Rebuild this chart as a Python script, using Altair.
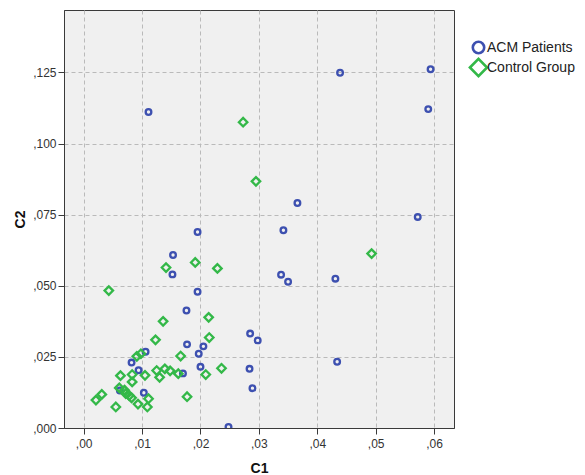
import altair as alt
import pandas as pd

groups = ["ACM Patients", "Control Group"]

acm_c1 = [0.0594, 0.0439, 0.0590, 0.0111, 0.0366, 0.0572, 0.0342, 0.0195, 0.0153, 0.0152,
          0.0338, 0.0431, 0.0350, 0.0195, 0.0176, 0.0285, 0.0298, 0.0177, 0.0205, 0.0106,
          0.0197, 0.0082, 0.0434, 0.0200, 0.0284, 0.0094, 0.0170, 0.0289, 0.0062, 0.0103,
          0.0248]
acm_c2 = [0.1261, 0.1249, 0.1121, 0.1111, 0.0791, 0.0742, 0.0695, 0.0689, 0.0608, 0.0540,
          0.0539, 0.0525, 0.0514, 0.0479, 0.0413, 0.0332, 0.0308, 0.0294, 0.0287, 0.0268,
          0.0261, 0.0230, 0.0233, 0.0215, 0.0208, 0.0203, 0.0192, 0.0140, 0.0132, 0.0124,
          0.0004]

ctrl_c1 = [0.0273, 0.0295, 0.0493, 0.0191, 0.0141, 0.0229, 0.0043, 0.0214, 0.0136, 0.0123,
           0.0215, 0.0166, 0.0098, 0.0091, 0.0063, 0.0083, 0.0083, 0.0105, 0.0125, 0.0139,
           0.0148, 0.0130, 0.0162, 0.0209, 0.0236, 0.0177, 0.0061, 0.0070, 0.0072, 0.0078,
           0.0082, 0.0111, 0.0093, 0.0109, 0.0031, 0.0021, 0.0055]
ctrl_c2 = [0.1075, 0.0867, 0.0613, 0.0582, 0.0564, 0.0561, 0.0483, 0.0389, 0.0375, 0.0310,
           0.0318, 0.0253, 0.0261, 0.0252, 0.0184, 0.0188, 0.0162, 0.0185, 0.0202, 0.0208,
           0.0201, 0.0178, 0.0191, 0.0188, 0.0210, 0.0110, 0.0141, 0.0133, 0.0121, 0.0114,
           0.0106, 0.0103, 0.0084, 0.0074, 0.0118, 0.0098, 0.0074]

x_ticks = [0.0, 0.01, 0.02, 0.03, 0.04, 0.05, 0.06]
y_ticks = [0.0, 0.025, 0.05, 0.075, 0.1, 0.125]

df = pd.DataFrame({
    "C1": acm_c1 + ctrl_c1,
    "C2": acm_c2 + ctrl_c2,
    "group": [groups[0]] * len(acm_c1) + [groups[1]] * len(ctrl_c1),
})

FONT = "Liberation Sans"
BIG_DIAMOND = "M-1.5,0L0,-1.5L1.5,0L0,1.5Z"

chart = alt.Chart(df).mark_point(filled=False, strokeWidth=2.3, clip=True, opacity=1, size=32).encode(
    x=alt.X("C1:Q", title="C1",
            scale=alt.Scale(domain=[-0.00337, 0.06341], nice=False, zero=False),
            axis=alt.Axis(values=x_ticks,
                          labelExpr="replace(format(datum.value, '.2f'), '0.', ',')")),
    y=alt.Y("C2:Q", title="C2",
            scale=alt.Scale(domain=[0, 0.14694], nice=False),
            axis=alt.Axis(values=y_ticks,
                          labelExpr="replace(format(datum.value, '.3f'), '0.', ',')")),
    color=alt.Color("group:N", title=None,
                    scale=alt.Scale(domain=groups, range=["#3d50b0", "#33b848"]),
                    legend=alt.Legend(
                        orient="none", legendX=407, legendY=30,
                        symbolSize=130, symbolStrokeWidth=2.6,
                        labelFontSize=14, labelFont=FONT, labelColor="#222222",
                        labelOffset=1, rowPadding=-6, padding=0,
                    )),
    shape=alt.Shape("group:N", title=None,
                    scale=alt.Scale(domain=groups, range=["circle", BIG_DIAMOND])),
).properties(
    width=390, height=418,
    autosize=alt.AutoSizeParams(type="none"),
    padding={"left": 56, "top": 2, "right": 123, "bottom": 47},
).configure_view(
    fill="#f0f0f0", stroke="#3a3a3a", strokeWidth=1,
).configure_axis(
    grid=True, gridDash=[4, 3], gridColor="#bababa", gridWidth=1,
    domainColor="#3a3a3a", domainWidth=1,
    tickColor="#3a3a3a", tickSize=6, tickWidth=1,
    labelFont=FONT, labelFontSize=12, labelColor="#333333",
    titleFont=FONT, titleFontSize=14, titleFontWeight="bold", titleColor="#111111",
).configure_axisX(
    labelPadding=4, titlePadding=12,
).configure_axisY(
    labelPadding=2, titlePadding=5,
)

chart.save("out.html", embed_options={"renderer": "svg", "actions": False})
